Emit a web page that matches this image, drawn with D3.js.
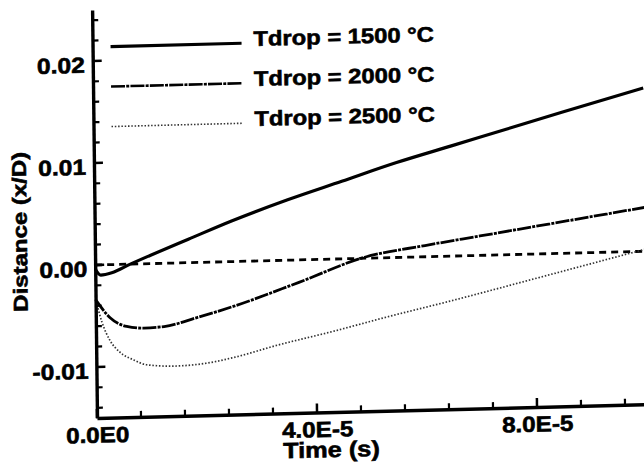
<!DOCTYPE html>
<html><head><meta charset="utf-8">
<script src="https://cdn.jsdelivr.net/npm/d3@7/dist/d3.min.js"></script>
<style>
body{margin:0;background:#fff}
text{font-family:"Liberation Sans",Arial,Helvetica,sans-serif;font-weight:bold;fill:#000;stroke:#000;stroke-width:0.6px}
</style>
</head><body>
<svg id="c" width="644" height="473"></svg>
<script>
// ---- data ----
const seriesNames = ["Tdrop = 1500 °C", "Tdrop = 2000 °C", "Tdrop = 2500 °C"];
const t1500 = [0, 0.1e-5, 0.3e-5, 0.64e-5, 1.0e-5, 1.7e-5, 2.5e-5, 3.5e-5, 4.5e-5, 5.5e-5, 6.5e-5, 7.5e-5, 8.5e-5, 10e-5];
const d1500 = [-0.0004, -0.0010, -0.0008, 0.0000, 0.0008, 0.0023, 0.0040, 0.0059, 0.0076, 0.0093, 0.0108, 0.0123, 0.0138, 0.0160];
const t2000 = [0, 0.26e-5, 0.56e-5, 0.87e-5, 1.24e-5, 1.84e-5, 2.5e-5, 3.7e-5, 4.9e-5, 6.0e-5, 7.0e-5, 8.0e-5, 9.0e-5, 10e-5];
const d2000 = [-0.0034, -0.0052, -0.0061, -0.0063, -0.0062, -0.0054, -0.0044, -0.0022, 0.0001, 0.0011, 0.0019, 0.0027, 0.0035, 0.0043];
const t2500 = [0, 0.11e-5, 0.25e-5, 0.43e-5, 0.68e-5, 0.91e-5, 1.4e-5, 2.0e-5, 2.5e-5, 3.3e-5, 4.3e-5, 5.3e-5, 6.45e-5, 8.0e-5, 10e-5];
const d2500 = [-0.0033, -0.0056, -0.0074, -0.0086, -0.0094, -0.0099, -0.0101, -0.0099, -0.0094, -0.0083, -0.0071, -0.0058, -0.0044, -0.0024, 0.0002];
const tZero = [0, 10e-5];
const dZero = [0, 0];
const xTickValues = [0, 4e-5, 8e-5];
const xTickLabels = ["0.0E0", "4.0E-5", "8.0E-5"];
const xMinorTicks = [0.8e-5, 1.6e-5, 2.4e-5, 3.2e-5, 4.8e-5, 5.6e-5, 6.4e-5, 7.2e-5, 8.8e-5, 9.6e-5];
const yTickValues = [-0.01, 0, 0.01, 0.02];
const yTickLabels = ["-0.01", "0.00", "0.01", "0.02"];
const yMinorTicks = [-0.014, -0.012, -0.008, -0.006, -0.004, -0.002, 0.002, 0.004, 0.006, 0.008, 0.012, 0.014, 0.016, 0.018, 0.022, 0.024];
const xTitle = "Time (s)";
const yTitle = "Distance (x/D)";

// ---- layout ----
const ox = 97, oy = 418;
const x = d3.scaleLinear().domain([0, 1e-4]).range([ox, 647]);
const y = d3.scaleLinear().domain([-0.015, 0.025]).range([oy, 10]);

const svg = d3.select("#c");
svg.append("rect").attr("width", 644).attr("height", 473).attr("fill", "#fff");
// the scanned original is slightly skewed
const g = svg.append("g")
  .attr("transform", `translate(${ox},${oy}) matrix(1,-0.025,0.012,1,0,0) translate(${-ox},${-oy})`);

function stext(parent, px, py, str, size, anchor, sx, rot) {
  return parent.append("text")
    .attr("transform", `translate(${px},${py})${rot ? ` rotate(${rot})` : ""} scale(${sx},1)`)
    .attr("text-anchor", anchor)
    .attr("font-size", size)
    .text(str);
}

// ---- curves ----
const line = d3.line().x(d => x(d[0])).y(d => y(d[1])).curve(d3.curveMonotoneX);
const zip = (a, b) => a.map((v, i) => [v, b[i]]);

g.append("path").datum(zip(tZero, dZero)).attr("d", line)
  .attr("fill", "none").attr("stroke", "#000").attr("stroke-width", 2.8)
  .attr("stroke-dasharray", "7,5");
g.append("path").datum(zip(t2500, d2500)).attr("d", line)
  .attr("fill", "none").attr("stroke", "#333").attr("stroke-width", 1.7)
  .attr("stroke-dasharray", "1.5,1.8");
g.append("path").datum(zip(t2000, d2000)).attr("d", line)
  .attr("fill", "none").attr("stroke", "#000").attr("stroke-width", 2.8)
  .attr("stroke-dasharray", "14,1.2,3,1.2");
g.append("path").datum(zip(t1500, d1500)).attr("d", line)
  .attr("fill", "none").attr("stroke", "#000").attr("stroke-width", 3.2);

// ---- inward tick marks ----
const tickG = g.append("g").attr("stroke", "#000").attr("stroke-linecap", "butt");
tickG.selectAll("line.xmin").data(xMinorTicks).join("line").attr("class", "xmin")
  .attr("x1", d => x(d)).attr("x2", d => x(d)).attr("y1", oy).attr("y2", oy - 6).attr("stroke-width", 2.2);
tickG.selectAll("line.xmaj").data(xTickValues).join("line").attr("class", "xmaj")
  .attr("x1", d => x(d)).attr("x2", d => x(d)).attr("y1", oy).attr("y2", oy - 9).attr("stroke-width", 2.5);
tickG.selectAll("line.ymin").data(yMinorTicks).join("line").attr("class", "ymin")
  .attr("y1", d => y(d)).attr("y2", d => y(d)).attr("x1", ox).attr("x2", ox + 6).attr("stroke-width", 2.2);
tickG.selectAll("line.ymaj").data(yTickValues).join("line").attr("class", "ymaj")
  .attr("y1", d => y(d)).attr("y2", d => y(d)).attr("x1", ox).attr("x2", ox + 9).attr("stroke-width", 2.5);

// ---- axes (domain lines + labels) ----
const xAx = g.append("g").attr("transform", `translate(0,${oy})`)
  .call(d3.axisBottom(x).tickValues(xTickValues).tickSize(0)
    .tickPadding(9).tickFormat((d, i) => xTickLabels[i]));
xAx.select(".domain").attr("stroke", "#000").attr("stroke-width", 3.4);
xAx.selectAll(".tick line").remove();
xAx.selectAll(".tick text").attr("font-size", 22).attr("font-family", null)
  .attr("transform", "scale(1.1,1)").attr("fill", "#000");

const yAx = g.append("g").attr("transform", `translate(${ox},0)`)
  .call(d3.axisLeft(y).tickValues(yTickValues).tickSize(0)
    .tickPadding(7).tickFormat((d, i) => yTickLabels[i]));
yAx.select(".domain").attr("stroke", "#000").attr("stroke-width", 3.4);
yAx.selectAll(".tick line").remove();
yAx.selectAll(".tick text").attr("font-size", 22).attr("font-family", null)
  .attr("dy", "0.5em").attr("transform", "scale(1.12,1)").attr("fill", "#000");

// ---- titles ----
stext(g, 331, 463, xTitle, 22, "middle", 1.15);
stext(g, 29, 230, yTitle, 20, "middle", 1.2, -90);

// ---- legend ----
const legStyles = [
  {w: 3.2, dash: null, c: "#000"},
  {w: 2.6, dash: "14,1.2,3,1.2", c: "#000"},
  {w: 1.6, dash: "1.5,1.8", c: "#333"}
];
seriesNames.forEach((name, i) => {
  const ly = 47 + i * 40;
  const st = legStyles[i];
  g.append("line").attr("x1", 115).attr("x2", 246).attr("y1", ly).attr("y2", ly)
    .attr("stroke", st.c).attr("stroke-width", st.w)
    .attr("stroke-dasharray", st.dash);
  stext(g, 258, ly + 3, name, 21, "start", 1.13);
});
</script>
</body></html>
